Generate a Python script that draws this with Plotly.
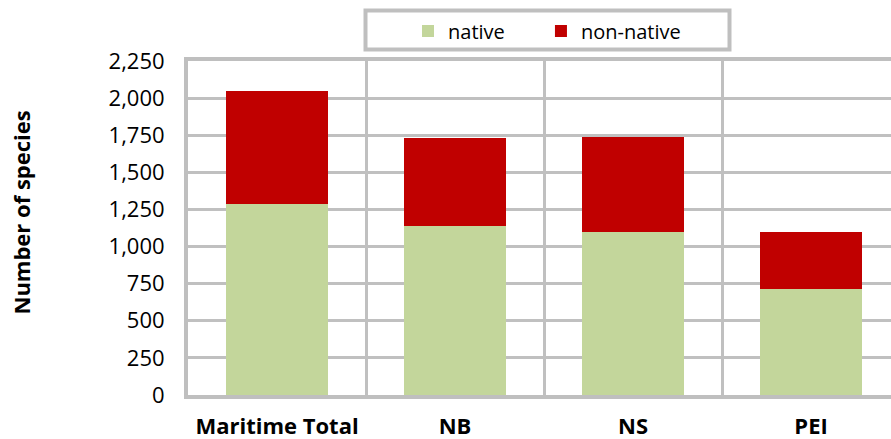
import plotly.graph_objects as go

categories = ["Maritime Total", "NB", "NS", "PEI"]
native = [1284, 1137, 1099, 716]
non_native = [766, 591, 636, 385]
y_ticks = [0, 250, 500, 750, 1000, 1250, 1500, 1750, 2000, 2250]

GREEN = "#c3d69b"
RED = "#c00000"
GRID = "#c0c0c0"
FONT = "Open Sans"
NBSP = "\u00a0"

fig = go.Figure()
fig.add_trace(go.Bar(name="native" + NBSP * 6, x=categories, y=native,
                     marker=dict(color=GREEN, line=dict(width=0)),
                     hovertemplate="native: %{y}<extra></extra>"))
fig.add_trace(go.Bar(name="non-native", x=categories, y=non_native,
                     marker=dict(color=RED, line=dict(width=0)),
                     hovertemplate="non-native: %{y}<extra></extra>"))

W, H = 891, 439
L, R, T, B = 188, 0, 61, 44
ph = H - T - B

def py(pix):
    # convert pixel y (from top) to paper coordinate
    return 1 + (T - pix) / ph

def px(pix):
    return (pix - L) / (W - L - R)

fig.update_layout(
    width=W, height=H,
    margin=dict(l=L, r=R, t=T, b=B, pad=0, autoexpand=False),
    barmode="stack",
    bargap=0.423,
    plot_bgcolor="white",
    paper_bgcolor="white",
    font=dict(family=FONT, color="black"),
    showlegend=True,
    legend=dict(orientation="h", x=px(408), xanchor="left", y=py(31), yanchor="middle",
                font=dict(size=20, family=FONT, color="black"),
                bgcolor="rgba(0,0,0,0)", borderwidth=0,
                traceorder="normal"),
    xaxis=dict(
        type="category",
        range=[-0.5, 3.449],
        tickson="boundaries",
        automargin=False,
        showgrid=True, gridcolor=GRID, gridwidth=2.5,
        showline=True, mirror=True, linecolor="#bfbfbf", linewidth=4,
        ticks="", ticklabelstandoff=9,
        tickfont=dict(family=FONT, size=22, color="black", weight="bold"),
    ),
    yaxis=dict(
        range=[0, 2250],
        tickvals=y_ticks,
        tickformat=",",
        automargin=False,
        showgrid=True, gridcolor=GRID, gridwidth=2.5,
        zeroline=False,
        showline=True, linecolor="#bfbfbf", linewidth=4,
        ticks="", ticklabelstandoff=15,
        tickfont=dict(family=FONT, size=22, color="black"),
    ),
    annotations=[dict(
        text="<b>Number of species</b>", textangle=-90,
        xref="paper", yref="paper", x=px(20), y=py(212.5),
        xanchor="center", yanchor="middle", showarrow=False,
        font=dict(family=FONT, size=22, color="black"),
    )],
    shapes=[dict(
        type="rect", xref="paper", yref="paper",
        x0=px(365.5), x1=px(729.5), y0=py(49.5), y1=py(10.5),
        line=dict(color="#bfbfbf", width=4), fillcolor="rgba(0,0,0,0)",
        layer="above",
    )],
)

fig.write_html("out.html",
               config={"displayModeBar": False},
               post_script="document.body.style.margin='0';document.body.style.padding='0';document.body.style.overflow='hidden';")
